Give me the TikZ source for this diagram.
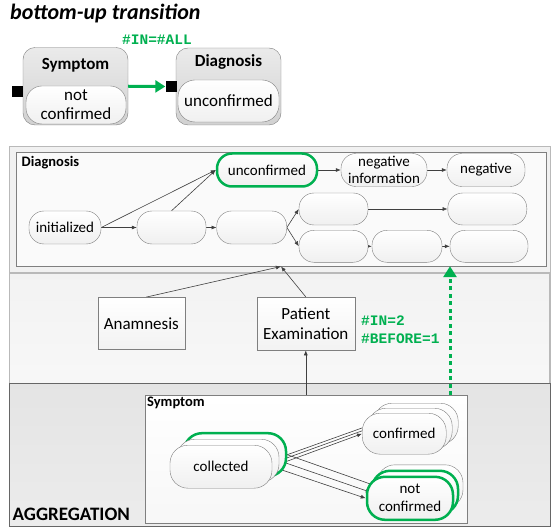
\documentclass[tikz,border=0pt]{standalone}
\usepackage{fontspec}
\setmainfont{Carlito}
\newfontfamily\codefont{Liberation Mono}
\usetikzlibrary{arrows.meta}

\definecolor{okgreen}{HTML}{00B050}
\definecolor{linegray}{HTML}{404040}
\definecolor{framegray}{HTML}{7F7F7F}

\pgfdeclarelayer{background}
\pgfdeclarelayer{edges}
\pgfsetlayers{background,edges,main}

\newcommand\fs[2]{\fontsize{#1}{#2}\selectfont}

\tikzset{
  state/.style={draw=framegray, rounded corners=15pt, top color=white, bottom color=gray!12,
    minimum height=33pt, inner sep=0pt, align=center, font=\fs{15}{16.5}},
  stackstate/.style={state, minimum height=43pt, rounded corners=18pt},
  hot/.style={draw=okgreen, line width=2.5pt},
  task/.style={draw=framegray, top color=white, bottom color=gray!10, align=center,
    font=\fs{17}{20}, inner sep=0pt},
  group/.style={draw=framegray, rounded corners=12pt, top color=gray!16, bottom color=gray!36, inner sep=0pt},
  port/.style={fill=black, inner sep=0pt, minimum width=11pt, minimum height=11pt},
  edge/.style={draw=linegray, line width=0.6pt},
  gedge/.style={draw=okgreen, line width=3pt, -{Triangle[length=10pt,width=12pt]}},
  gtext/.style={text=okgreen, font=\codefont\bfseries\fs{14.5}{18}, inner sep=0pt, align=left},
  tag/.style={font=\bfseries\fs{14.5}{16}, inner sep=0pt, anchor=north west},
}

\begin{document}
\begin{tikzpicture}[x=1pt, y=-1pt, >={Latex[length=5pt,width=4pt]}]

  \useasboundingbox (0,0) rectangle (551,529);

  \node[anchor=west, inner sep=0pt, font=\bfseries\itshape\fs{22}{24}] (title) at (10,14) {bottom-up transition};

  %% small example
  \node[group, minimum width=105pt, minimum height=77.5pt] (symA) at (75.5,86.25) {};
  \node[font=\bfseries\fs{17}{20}, inner sep=0pt] (symAlab) at (75.5,65) {Symptom};
  \node[state, minimum width=100pt, minimum height=38pt, rounded corners=16pt, font=\fs{17}{19}] (symAin) at (76,105) {not\\confirmed};
  \node[port] (portA) at (17.75,91.5) {};

  \node[group, minimum width=105pt, minimum height=77pt] (diagA) at (228.5,86.5) {};
  \node[font=\bfseries\fs{17}{20}, inner sep=0pt] (diagAlab) at (228.5,62) {Diagnosis};
  \node[state, minimum width=101pt, minimum height=42pt, rounded corners=17pt, font=\fs{17}{19}] (diagAin) at (228.5,101) {unconfirmed};
  \node[port] (portB) at (171,86.5) {};

  \draw[gedge] (symA.east) -- (portB.west); %% symptom -> diagnosis
  \node[gtext] (ruleA) at (157,40) {\#IN=\#ALL};

  %% bands
  \begin{pgfonlayer}{background}
    \draw[draw=gray!55, fill=gray!11] (9.3,146.7) rectangle (550,273);
    \draw[draw=gray!55, line width=1.5pt, top color=gray!10, bottom color=gray!6] (9.3,273) rectangle (550,383.3);
    \draw[draw=gray!80!black, top color=gray!21, bottom color=gray!15] (9.3,383.3) rectangle (550,526);
    \node[draw=framegray, fill=gray!4, minimum width=529.7pt, minimum height=113.3pt, inner sep=0pt] (diagbox) at (280.85,209.35) {};
    \node[draw=framegray, top color=white, bottom color=gray!6, minimum width=321.7pt, minimum height=127.7pt, inner sep=0pt] (symbox) at (305.85,458.85) {};
  \end{pgfonlayer}
  \node[anchor=west, inner sep=0pt, font=\bfseries\fs{19}{21}] (aggr) at (12.5,514) {AGGREGATION};
  \node[tag] (diaglab) at (21.5,156) {Diagnosis};
  \node[tag] (symlab) at (147,397) {Symptom};

  %% diagnosis states
  \node[state, minimum width=72pt] (init) at (65,227.5) {initialized};
  \node[state, minimum width=69pt] (d2) at (171.5,227.5) {};
  \node[state, minimum width=70pt] (d3) at (251.7,227.5) {};
  \node[state, hot, minimum width=100pt] (unconf) at (267,170) {unconfirmed};
  \node[state, minimum width=86pt] (neginf) at (384,170) {negative\\information};
  \node[state, minimum width=78pt] (neg) at (486,170) {negative};
  \node[state, minimum width=69pt, minimum height=32pt] (u1) at (333.5,209) {};
  \node[state, minimum width=79pt, minimum height=32pt] (u2) at (487.3,209) {};
  \node[state, minimum width=69pt, minimum height=32pt] (l1) at (333.5,246.3) {};
  \node[state, minimum width=70pt, minimum height=32pt] (l2) at (407,246.3) {};
  \node[state, minimum width=78pt, minimum height=32pt] (l3) at (489,246.3) {};

  %% tasks
  \node[task, minimum width=87pt, minimum height=52pt] (anam) at (141.3,323.3) {Anamnesis};
  \node[task, minimum width=98pt, minimum height=53pt] (exam) at (305.8,323.6) {Patient\\Examination};
  \node[gtext, anchor=west] (rule) at (361,330) {\#IN=2\\\#BEFORE=1};

  %% symptom states
  \node[stackstate, hot, minimum width=102pt] (col2) at (235,454.7) {};
  \node[stackstate, minimum width=102pt] (col1) at (228,460.7) {};
  \node[stackstate, minimum width=102pt] (col0) at (221,466.7) {collected};
  \node[stackstate, minimum width=84pt, minimum height=41pt] (conf2) at (416.2,423.7) {};
  \node[stackstate, minimum width=84pt, minimum height=41pt] (conf1) at (410.2,428.7) {};
  \node[stackstate, minimum width=84pt, minimum height=41pt] (conf0) at (404.2,433.7) {confirmed};
  \node[stackstate, minimum width=86pt] (nc2) at (420,486.3) {};
  \node[stackstate, hot, minimum width=86pt] (nc1) at (415,492.3) {};
  \node[stackstate, hot, minimum width=86pt, font=\fs{15}{18}] (nc0) at (410,498.3) {not\\confirmed};

  \coordinate (hit) at (281,266.5);
  \coordinate (gfrom) at (450,395);

  \begin{pgfonlayer}{edges}
    \draw[edge,->] (init) -- (d2);
    \draw[edge,->] (init.east) -- (unconf.west);
    \draw[edge,->] (d2.north) -- (unconf.west);
    \draw[edge,->] (d2) -- (d3);
    \draw[edge,->] (d3.east) -- (u1.west);
    \draw[edge,->] (d3.east) -- (l1.west);
    \draw[edge,->] (u1) -- (u2);
    \draw[edge,->] (l1) -- (l2);
    \draw[edge,->] (l2) -- (l3);
    \draw[edge,->] (unconf) -- (neginf);
    \draw[edge,->] (neginf) -- (neg);

    \draw[edge,->] ([xshift=5pt]anam.north) -- (hit);
    \draw[edge,->] (exam.north) -- (hit);
    \draw[edge,->] (exam.south |- symbox.north) -- (exam.south);

    \foreach \k in {2,1,0} {
      \draw[edge,->] (col\k.east) -- (conf\k.west);
      \draw[edge,->] (col\k.east) -- (nc\k.west);
    }
  \end{pgfonlayer}

  \draw[gedge, line width=3pt, dash pattern=on 4pt off 3.5pt, -{Triangle[length=11pt,width=13pt]}] (gfrom) -- (gfrom |- diagbox.south); %% symptom -> diagnosis
\end{tikzpicture}
\end{document}
